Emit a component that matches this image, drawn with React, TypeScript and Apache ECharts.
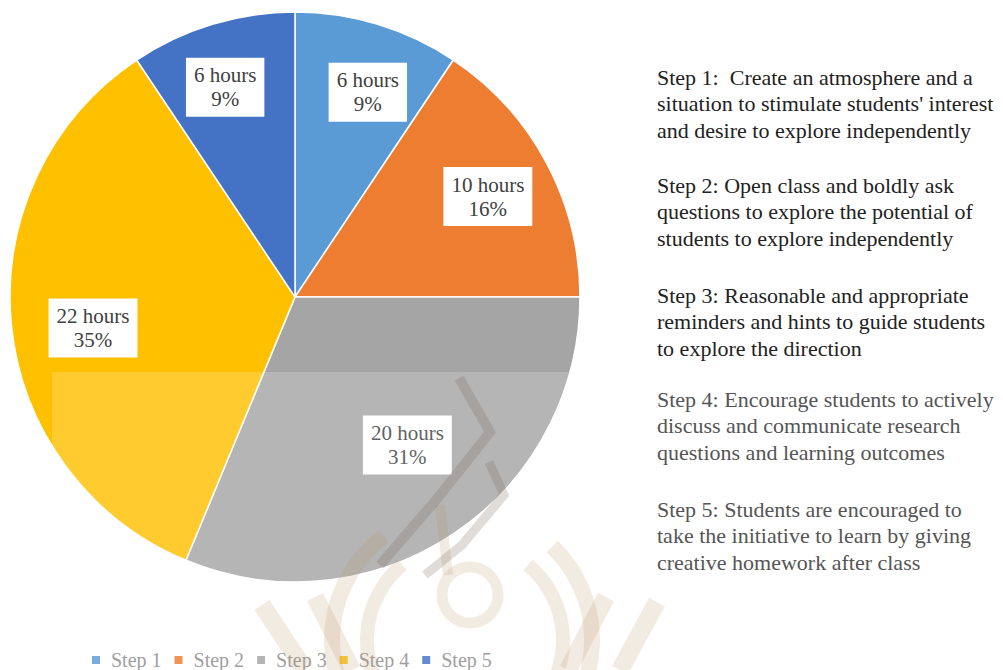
import React, { useEffect, useRef } from "react";
import * as echarts from "echarts";

const categories = ["Step 1", "Step 2", "Step 3", "Step 4", "Step 5"];
const hours = [6, 10, 20, 22, 6];
const percentLabels = ["9%", "16%", "31%", "35%", "9%"];
const colors = ["#5B9BD5", "#ED7D31", "#A5A5A5", "#FFC000", "#4472C4"];
const descriptions = [
  ["Step 1:  Create an atmosphere and a", "situation to stimulate students' interest", "and desire to explore independently"],
  ["Step 2: Open class and boldly ask", "questions to explore the potential of", "students to explore independently"],
  ["Step 3: Reasonable and appropriate", "reminders and hints to guide students", "to explore the direction"],
  ["Step 4: Encourage students to actively", "discuss and communicate research", "questions and learning outcomes"],
  ["Step 5: Students are encouraged to", "take the initiative to learn by giving", "creative homework after class"],
];
const descTops = [66, 174, 284, 388, 498];
const descColors = ["#222222", "#222222", "#222222", "#555555", "#555555"];
const labelOffsets = [[11, -1], [5, 0], [-6, -29], [10, 10], [-8, -6]];

const SERIF = "serif";
const WM = "rgba(185,145,95,0.18)";
const WM_DARK = "rgba(110,95,80,0.22)";

export default function App() {
  const ref = useRef<HTMLDivElement>(null);
  useEffect(() => {
    document.body.style.margin = "0";
    const chart = echarts.init(ref.current!, null, { renderer: "svg" });
    const data = categories.map((name, i) => ({
      name,
      value: hours[i],
      itemStyle: { color: colors[i] },
    }));
    const graphics: any[] = [];
    descriptions.forEach((lines, i) => {
      lines.forEach((line, j) => {
        graphics.push({
          type: "text",
          left: 657,
          top: descTops[i] + j * 26.6,
          style: { text: line, fontFamily: SERIF, fontSize: 22, fill: descColors[i] },
        });
      });
    });
    // light band of the scan
    graphics.push({
      type: "rect",
      shape: { x: 52, y: 372, width: 525, height: 298 },
      style: { fill: "rgba(255,255,255,0.18)" },
      z: 100,
      silent: true,
    });
    // faint watermark
    const deg = Math.PI / 180;
    const wm: any[] = [
      { type: "arc", shape: { cx: 462, cy: 640, r: 130, startAngle: -46 * deg, endAngle: 233 * deg, clockwise: true }, style: { stroke: WM, lineWidth: 16, fill: "none" } },
      { type: "arc", shape: { cx: 465, cy: 640, r: 98, startAngle: -50 * deg, endAngle: 230 * deg, clockwise: true }, style: { stroke: WM, lineWidth: 14, fill: "none" } },
      { type: "circle", shape: { cx: 470, cy: 595, r: 28 }, style: { stroke: WM, lineWidth: 11, fill: "none" } },
      { type: "line", shape: { x1: 448, y1: 575, x2: 440, y2: 505 }, style: { stroke: WM, lineWidth: 10 } },
      { type: "line", shape: { x1: 262, y1: 605, x2: 305, y2: 670 }, style: { stroke: WM, lineWidth: 18 } },
      { type: "line", shape: { x1: 315, y1: 597, x2: 352, y2: 670 }, style: { stroke: WM, lineWidth: 18 } },
      { type: "line", shape: { x1: 606, y1: 597, x2: 568, y2: 670 }, style: { stroke: WM, lineWidth: 18 } },
      { type: "line", shape: { x1: 657, y1: 602, x2: 620, y2: 670 }, style: { stroke: WM, lineWidth: 18 } },
      { type: "polyline", shape: { points: [[459, 378], [490, 432], [436, 500], [380, 565]] }, style: { stroke: WM_DARK, lineWidth: 10, fill: "none" } },
      { type: "polyline", shape: { points: [[489, 462], [504, 495], [462, 545], [425, 575]] }, style: { stroke: WM_DARK, lineWidth: 9, fill: "none" } },
    ];
    wm.forEach((e) => graphics.push({ ...e, z: 101, silent: true }));
    chart.setOption({
      animation: false,
      legend: {
        data: categories,
        top: 645,
        left: 85,
        itemWidth: 10,
        itemHeight: 10,
        itemGap: 11,
        icon: "rect",
        textStyle: { fontFamily: SERIF, fontSize: 20, color: "#8a8a8a", padding: [0, 0, 0, 5] },
      },
      graphic: graphics,
      series: [
        {
          type: "pie",
          center: [295, 297],
          radius: [0, 285],
          startAngle: 90,
          clockwise: true,
          data,
          label: { show: false },
          labelLine: { show: false },
          itemStyle: { borderColor: "#ffffff", borderWidth: 1.5 },
          silent: true,
        },
        {
          type: "pie",
          center: [295, 297],
          radius: [0, 420],
          startAngle: 90,
          clockwise: true,
          data: categories.map((name, i) => ({
            name,
            value: hours[i],
            label: { offset: labelOffsets[i] },
          })),
          itemStyle: { color: "transparent", borderWidth: 0 },
          labelLine: { show: false },
          silent: true,
          z: 3,
          label: {
            show: true,
            position: "inside",
            formatter: (p: any) => `${hours[p.dataIndex]} hours\n${percentLabels[p.dataIndex]}`,
            backgroundColor: "#ffffff",
            padding: [6, 8, 5, 8],
            fontFamily: SERIF,
            fontSize: 21,
            lineHeight: 24,
            color: "#404040",
          },
        },
      ],
    });
    return () => chart.dispose();
  }, []);
  return <div ref={ref} style={{ width: 1003, height: 670 }} />;
}
